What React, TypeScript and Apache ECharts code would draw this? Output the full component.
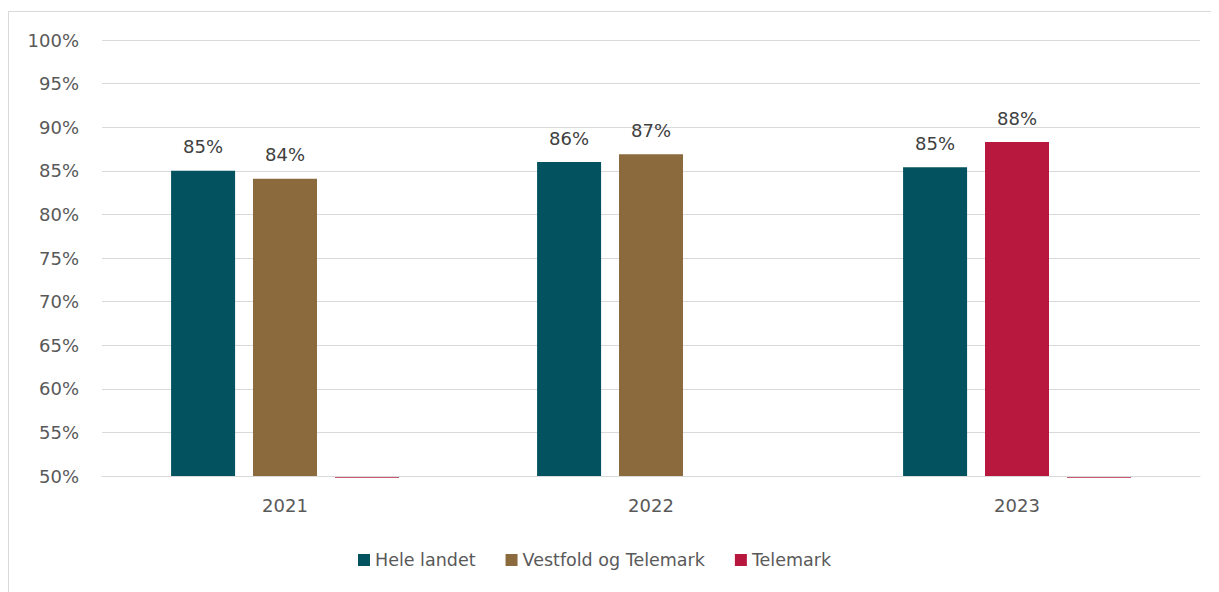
import React, { useEffect, useRef } from "react";
import * as echarts from "echarts";

const categories = ["2021", "2022", "2023"];
const seriesNames = ["Hele landet", "Vestfold og Telemark", "Telemark"];
const heleLandet = [85.0, 86.0, 85.4];
const vestfoldTelemark = [84.1, 86.9, 88.3];
const telemark: (number | null)[] = [0, null, 0];
const yTicks = [50, 55, 60, 65, 70, 75, 80, 85, 90, 95, 100];

const TEAL = "#02535f";
const BROWN = "#8b6b3e";
const CRIMSON = "#b8173e";
const FONT = "'DejaVu Sans', sans-serif";
const BAR_W = 64;
const BAR_GAP = 18;

export default function App() {
  const ref = useRef<HTMLDivElement>(null);
  useEffect(() => {
    if (!ref.current) return;
    const chart = echarts.init(ref.current, null, { renderer: "svg" });
    const yMin = yTicks[0];
    const label = {
      show: true,
      position: "top" as const,
      distance: 15,
      color: "#404040",
      fontSize: 18,
      fontFamily: FONT,
      formatter: (p: any) => Math.round(p.value) + "%",
    };
    chart.setOption({
      animation: false,
      textStyle: { fontFamily: FONT },
      grid: { left: 93, right: 19, top: 28, bottom: 116 },
      legend: {
        data: seriesNames,
        bottom: 18,
        left: 344,
        icon: "rect",
        itemWidth: 12,
        itemHeight: 12,
        itemGap: 30,
        textStyle: { color: "#595959", fontSize: 17.5, fontFamily: FONT },
      },
      xAxis: {
        type: "category",
        data: categories,
        axisLine: { show: true, lineStyle: { color: "#d9d9d9", width: 1 } },
        axisTick: { show: false },
        axisLabel: { color: "#595959", fontSize: 18, margin: 20, fontFamily: FONT },
      },
      yAxis: {
        type: "value",
        min: yMin,
        max: yTicks[yTicks.length - 1],
        interval: 5,
        axisLine: { show: false },
        axisTick: { show: false },
        splitLine: { lineStyle: { color: "#d9d9d9", width: 1 } },
        axisLabel: {
          color: "#595959",
          fontSize: 18,
          margin: 23,
          fontFamily: FONT,
          formatter: "{value}%",
        },
      },
      series: [
        {
          name: seriesNames[0],
          type: "bar",
          data: heleLandet,
          barWidth: BAR_W,
          barGap: "28%",
          itemStyle: { color: TEAL },
          label,
          z: 3,
        },
        {
          name: seriesNames[1],
          type: "bar",
          data: vestfoldTelemark.map((v, i) =>
            i === 2 ? { value: v, itemStyle: { color: CRIMSON } } : v
          ),
          barWidth: BAR_W,
          barGap: "28%",
          itemStyle: { color: BROWN },
          label,
          z: 3,
        },
        {
          name: seriesNames[2],
          type: "bar",
          data: telemark,
          barWidth: BAR_W,
          barGap: "28%",
          itemStyle: { color: CRIMSON },
          label: { show: false },
          z: 3,
        },
        {
          type: "custom",
          data: telemark.map((v, i) => [i, v]),
          itemStyle: { color: CRIMSON },
          z: 1,
          clip: false,
          silent: true,
          renderItem: (params: any, api: any) => {
            const v = api.value(1);
            if (v === null || v === undefined || isNaN(v)) return null;
            const pt = api.coord([api.value(0), Math.max(v, yMin)]);
            const cx = pt[0] + BAR_W + BAR_GAP;
            return {
              type: "rect",
              shape: { x: cx - BAR_W / 2, y: pt[1] + 1, width: BAR_W, height: 1 },
              style: { fill: "#c65a73" },
            };
          },
        },
      ],
    });
    return () => chart.dispose();
  }, []);
  return (
    <div
      style={{
        marginTop: 3,
        width: 1210,
        height: 581,
        borderTop: "1px solid #d9d9d9",
        borderLeft: "1px solid #d9d9d9",
        background: "#fff",
      }}
    >
      <div ref={ref} style={{ width: 1210, height: 580 }} />
    </div>
  );
}
